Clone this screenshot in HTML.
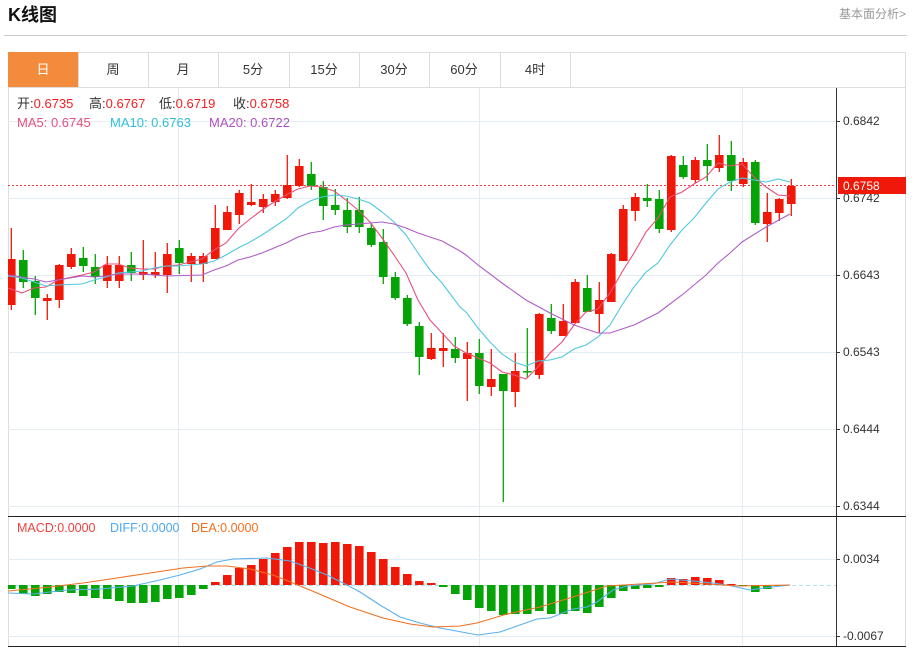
<!DOCTYPE html>
<html><head><meta charset="utf-8">
<style>
body{margin:0;background:#fff;width:914px;height:649px;overflow:hidden;font-family:"Liberation Sans","Noto Sans CJK SC",sans-serif;}
svg{position:absolute;left:0;top:0}
</style></head><body>
<svg id="s" width="914" height="649" xmlns="http://www.w3.org/2000/svg" font-family="Liberation Sans, Noto Sans CJK SC, sans-serif">
<defs><clipPath id="cp"><rect x="8" y="88" width="828" height="558"/></clipPath></defs>
<text x="8" y="21" font-size="18" font-weight="bold" fill="#111">K线图</text>
<text x="906" y="18" font-size="12" fill="#999" text-anchor="end">基本面分析&gt;</text>
<line x1="4" y1="35.5" x2="907" y2="35.5" stroke="#ccc"/>
<rect x="8.5" y="52.5" width="897" height="594" fill="none" stroke="#ddd"/>
<line x1="8" y1="87.5" x2="906" y2="87.5" stroke="#ddd"/>
<rect x="8" y="52" width="70" height="35" fill="#f38b3c"/>
<g stroke="#ddd"><line x1="78.5" y1="52" x2="78.5" y2="87"/><line x1="148.5" y1="52" x2="148.5" y2="87"/><line x1="218.5" y1="52" x2="218.5" y2="87"/><line x1="289.5" y1="52" x2="289.5" y2="87"/><line x1="359.5" y1="52" x2="359.5" y2="87"/><line x1="429.5" y1="52" x2="429.5" y2="87"/><line x1="500.5" y1="52" x2="500.5" y2="87"/><line x1="570.5" y1="52" x2="570.5" y2="87"/></g>
<g font-size="13" fill="#333" text-anchor="middle">
<text x="43" y="74" fill="#fff">日</text><text x="113" y="74">周</text><text x="183" y="74">月</text><text x="253" y="74">5分</text><text x="324" y="74">15分</text><text x="394" y="74">30分</text><text x="464" y="74">60分</text><text x="535" y="74">4时</text></g>
<g id="grid" stroke="#e3ecf3"></g>
<line x1="836.5" y1="88" x2="836.5" y2="647" stroke="#333"/>
<line x1="8" y1="516.5" x2="906" y2="516.5" stroke="#222"/>
<line x1="8" y1="646.5" x2="906" y2="646.5" stroke="#222"/>
<line x1="8" y1="185.5" x2="836" y2="185.5" stroke="#f04040" stroke-dasharray="2,2"/>
<line x1="8" y1="585.5" x2="836" y2="585.5" stroke="#aee0f0" stroke-dasharray="4,3"/>
<g id="c" clip-path="url(#cp)"></g>
<g font-size="12" fill="#333">
<text x="843" y="125">0.6842</text><text x="843" y="202">0.6742</text><text x="843" y="279">0.6643</text><text x="843" y="356">0.6543</text><text x="843" y="433">0.6444</text><text x="843" y="510">0.6344</text>
<text x="843" y="563">0.0034</text><text x="843" y="640">-0.0067</text></g>
<g stroke="#333"><line x1="836" y1="121.5" x2="840" y2="121.5"/><line x1="836" y1="198.5" x2="840" y2="198.5"/><line x1="836" y1="275.5" x2="840" y2="275.5"/><line x1="836" y1="352.5" x2="840" y2="352.5"/><line x1="836" y1="429.5" x2="840" y2="429.5"/><line x1="836" y1="506.5" x2="840" y2="506.5"/><line x1="836" y1="559.5" x2="840" y2="559.5"/><line x1="836" y1="636.5" x2="840" y2="636.5"/></g>
<rect x="838" y="177" width="68" height="17" fill="#f01808"/>
<text x="843" y="190" font-size="12" fill="#fff">0.6758</text>
<g font-size="13" fill="#333">
<text x="17" y="108">开:<tspan fill="#f02020">0.6735</tspan></text>
<text x="89" y="108">高:<tspan fill="#f02020">0.6767</tspan></text>
<text x="159" y="108">低:<tspan fill="#f02020">0.6719</tspan></text>
<text x="233" y="108">收:<tspan fill="#f02020">0.6758</tspan></text>
<text x="17" y="127" fill="#e8507a">MA5: 0.6745</text>
<text x="110" y="127" fill="#30c0d8">MA10: 0.6763</text>
<text x="209" y="127" fill="#b050c0">MA20: 0.6722</text>
</g>
<g font-size="12.5">
<text x="17" y="532" fill="#f04040">MACD:0.0000</text>
<text x="110" y="532" fill="#50a8f0">DIFF:0.0000</text>
<text x="191" y="532" fill="#f07020">DEA:0.0000</text>
</g>
</svg>
<script>
var NS="http://www.w3.org/2000/svg",g=document.getElementById("c"),gr=document.getElementById("grid");
function el(p,t,a){var e=document.createElementNS(NS,t);for(var k in a)e.setAttribute(k,a[k]);p.appendChild(e);return e;}
[121,198,275,352,429,506,559,636].forEach(function(y){el(gr,"line",{x1:8,x2:836,y1:y+.5,y2:y+.5});});
[178,479,742].forEach(function(x){el(gr,"line",{x1:x+.5,x2:x+.5,y1:88,y2:646});});
var C=[["R",228,259,305,310],["G",250,260,282,288],["G",276,281,298,315],["R",294,298,301,320],["R",264,265,300,308],["R",248,254,267,269],["G",247,258,266,272],["G",254,267,277,284],["R",256,265,281,288],["R",256,265,281,288],["G",252,265,273,281],["R",240,272,275,280],["R",252,272,275,278],["R",243,254,275,293],["G",240,248,263,274],["R",253,256,264,282],["R",253,256,264,282],["R",205,228,259,259],["R",206,212,230,230],["R",190,193,215,224],["R",184,202,205,206],["R",194,199,207,213],["R",190,194,202,206],["R",155,185,198,199],["R",159,166,186,187],["G",162,174,186,190],["G",181,187,206,220],["G",189,205,210,215],["G",198,210,227,233],["G",197,210,227,233],["G",223,228,245,247],["G",229,242,277,284],["G",272,277,298,300],["G",295,298,324,326],["G",322,326,357,375],["R",333,348,359,360],["R",333,348,351,367],["G",337,349,358,363],["R",342,353,359,401],["G",339,353,386,394],["R",349,379,387,396],["G",374,374,391,502],["R",353,371,392,407],["G",328,371,372,378],["R",313,314,375,379],["G",304,318,331,334],["R",304,321,336,336],["R",279,282,323,324],["G",275,288,312,312],["R",282,300,314,333],["R",253,254,302,302],["R",205,209,261,261],["R",193,197,211,221],["G",184,198,201,207],["G",190,199,229,233],["R",155,156,230,232],["G",156,165,177,179],["R",157,160,180,183],["G",144,160,166,181],["R",135,155,168,172],["G",141,155,181,191],["R",158,162,184,187],["G",160,162,223,225],["R",193,212,224,242],["R",198,199,213,221],["R",179,186,204,216]];
var H=[589,594,596,594,592,593,596,598,599,601,603,603,602,599,598,595,589,582,575,568,565,559,553,547,542,542,543,542,544,546,552,559,567,574,581,583,587,594,600,608,611,615,614,614,611,614,614,611,613,607,598,591,589,588,587,578,579,577,578,580,584,586,592,589,586,585];
C.forEach(function(c,i){var x=11.3+12*i;
 var hy=H[i];if(hy!=585){var t=Math.min(hy,585),h=Math.abs(hy-585);el(g,"rect",{x:x-4.3,y:t,width:8.6,height:h,fill:hy<585?"#f01808":"#05a305"});}
});
C.forEach(function(c,i){var x=11.3+12*i,col=c[0]=="R"?"#f01808":"#05a305";
 el(g,"line",{x1:x,x2:x,y1:c[1],y2:c[4],stroke:col,"stroke-width":1.3});
 el(g,"rect",{x:x-4.3,y:c[2],width:8.6,height:Math.max(1.5,c[3]-c[2]),fill:col});});
function pl(pts,col){el(g,"polyline",{points:pts,fill:"none",stroke:col,"stroke-width":1.1});}
pl("8,288 22,293 34,288 46,287 58,280 82,275 94,272 106,264 118,264 130,268 142,269 154,269 166,266 178,265 190,262 202,259 214,250 226,243 238,229 250,219 262,210 274,202 286,195 298,189 310,186 322,187 334,191 346,200 358,210 370,222 382,238 394,255 406,273 418,300 430,320 442,333 454,346 466,353 478,358 490,363 502,372 514,375 526,379 538,367 550,353 562,342 574,325 586,312 598,309 610,293 622,272 634,253 646,232 658,218 670,197 682,192 694,184 706,177 718,163 730,166 742,164 754,177 766,187 778,195 790,196","#e8507a");
pl("8,276 22,278 34,282 46,286 58,285 82,284 94,280 106,277 118,273 130,272 142,271 154,268 166,266 178,266 202,264 214,261 226,255 238,248 250,242 262,235 274,227 286,219 298,208 310,201 322,197 334,195 346,196 358,199 370,203 382,212 394,222 406,235 418,253 430,270 442,283 460,307 466,312 478,328 490,342 502,354 514,362 526,366 538,361 550,360 562,357 574,349 586,345 598,337 610,325 622,305 634,287 646,272 658,263 670,245 682,230 694,218 706,203 718,189 730,182 742,178 754,180 766,182 778,179 790,182","#4fc8e0");
pl("8,275 34,279 46,282 58,280 82,276 94,277 106,276 118,274 142,274 166,276 202,275 214,270 226,266 238,260 250,257 262,253 274,248 286,243 298,237 310,233 322,231 334,227 346,225 358,224 370,223 382,222 394,224 406,228 418,233 430,237 442,241 460,251 466,255 478,265 502,283 526,300 550,313 574,325 598,333 610,333 622,329 634,325 658,313 682,295 706,275 718,263 730,253 742,242 766,227 790,214","#b05cc8");
pl("8,593 33,594 67,590 100,589 133,586 160,580 180,575 200,569 217,562 233,559 267,558 290,561 307,567 327,575 347,585 360,592 380,605 400,617 420,623 440,628 478,635 500,632 537,619 550,618 573,609 587,607 597,602 613,590 627,586 653,584 670,579 693,581 713,583 727,585 750,590 763,588 790,585","#5ab0f0");
pl("8,591 50,587 83,583 117,578 150,573 183,568 207,566 227,566 250,569 273,575 293,583 317,593 350,607 383,618 410,624 433,627 460,626 477,623 507,614 540,607 573,597 607,586 640,584 673,582 707,584 740,586 790,585","#f07020");
</script>
</body></html>
